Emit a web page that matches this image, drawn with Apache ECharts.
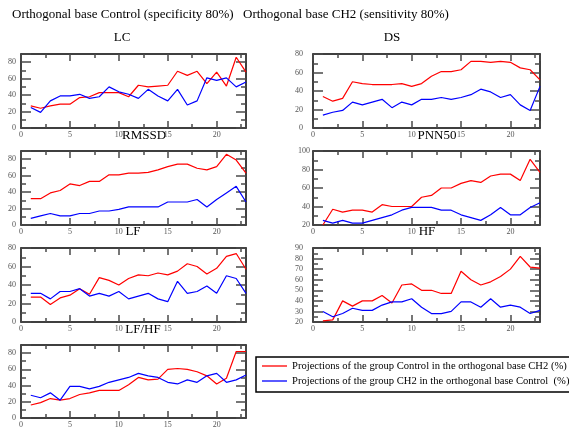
<!DOCTYPE html>
<html><head><meta charset="utf-8">
<script src="https://cdn.jsdelivr.net/npm/echarts@6/dist/echarts.min.js"></script>
<style>html,body{margin:0;padding:0;background:#fff}#c{width:569px;height:429px}</style>
</head><body><div id="c"></div>
<script>
// ---------------- data ----------------
const xIdx = [1,2,3,4,5,6,7,8,9,10,11,12,13,14,15,16,17,18,19,20,21,22,23];
const panelNames = ['LC','DS','RMSSD','PNN50','LF','HF','LF/HF'];
const seriesNames = [
  'Projections of the group Control in the orthogonal base CH2 (%)',
  'Projections of the group CH2 in the orthogonal base Control  (%)'
];
const lcRed   = [27,24,27,29,29,37,38,43,43,43,38,52,50,51,52,69,64,69,54,68,51,86,68];
const lcBlue  = [25,19,33,39,39,41,36,38,50,44,41,36,47,39,33,47,28,33,61,58,61,50,56];
const dsRed   = [34,29,32,50,48,47,47,47,48,45,48,56,61,61,63,72,72,71,72,71,65,63,52];
const dsBlue  = [14,17,19,28,25,28,31,22,28,25,31,31,33,31,33,36,42,39,33,36,25,19,45];
const rmssdRed  = [32,32,39,42,50,48,53,53,61,61,63,63,64,67,71,74,74,69,67,71,86,79,63];
const rmssdBlue = [8,11,14,11,11,14,14,17,17,19,22,22,22,22,28,28,28,31,22,31,39,47,28];
const pnnRed  = [20,37,34,36,36,34,42,40,40,40,50,52,60,60,65,68,66,73,75,75,68,91,77];
const pnnBlue = [25,22,25,22,22,25,28,31,36,39,39,39,36,36,31,28,25,31,39,31,31,39,44];
const lfRed   = [27,27,19,26,29,36,30,48,45,40,47,51,50,53,51,55,63,60,52,58,71,74,57];
const lfBlue  = [31,31,25,33,33,36,28,31,28,33,25,28,31,25,22,44,31,33,39,31,50,47,31];
const hfRed   = [21,22,40,35,40,40,45,38,55,56,50,50,47,47,68,60,55,58,63,70,82,72,71];
const hfBlue  = [30,25,28,33,31,31,36,39,39,42,34,28,28,30,39,39,34,42,34,36,34,28,31];
const lfhfRed  = [16,19,24,22,24,29,31,34,34,34,41,50,47,48,60,61,60,57,52,42,49,82,82];
const lfhfBlue = [28,25,31,22,39,39,36,39,44,47,50,55,52,50,44,42,47,44,52,55,44,47,53];
const redSets  = [lcRed, dsRed, rmssdRed, pnnRed, lfRed, hfRed, lfhfRed];
const blueSets = [lcBlue, dsBlue, rmssdBlue, pnnBlue, lfBlue, hfBlue, lfhfBlue];
const yMinVals  = [0, 0, 0, 20, 0, 20, 0];
const yMaxVals  = [90, 80, 90, 100, 80, 90, 90];
const yStepVals = [20, 20, 20, 20, 20, 10, 20];
const xMinVal = 0, xMaxVal = 23, xStepVal = 5;
const mainTitles = ['Orthogonal base Control (specificity 80%)', 'Orthogonal base CH2 (sensitivity 80%)'];

// ---------------- layout / style ----------------
const FONT = '"Liberation Serif", "Times New Roman", serif';
const gridBoxes = [
  {left:21,  top:54,  width:225, height:74},
  {left:313, top:54,  width:227, height:74},
  {left:21,  top:151, width:225, height:74},
  {left:313, top:151, width:227, height:74},
  {left:21,  top:248, width:225, height:74},
  {left:313, top:248, width:227, height:74},
  {left:21,  top:345, width:225, height:74}
];
const yLabelMargin = [5, 10, 5, 3, 5, 10, 5];
const titlePos = [[122,38],[392,38],[144,136],[437,136],[133,232],[427,232],[143,330]];
const RED = '#ff0000', BLUE = '#0000ff';
const tickColor = '#4a4a4a';

const grid = [], xAxis = [], yAxis = [], series = [];
gridBoxes.forEach((g, i) => {
  grid.push(Object.assign({containLabel:false}, g));
  const xBase = {
    type:'value', gridIndex:i, min:xMinVal, max:xMaxVal, interval:xStepVal,
    axisLine:{show:true, onZero:false, lineStyle:{color:'#000', width:1.5}},
    axisTick:{show:true, inside:true, length:7, lineStyle:{color:tickColor, width:1.5}},
    minorTick:{show:true, splitNumber:2, length:4, lineStyle:{color:tickColor, width:1.5}},
    splitLine:{show:false}
  };
  xAxis.push(Object.assign({}, xBase, {position:'bottom',
    axisLabel:{show:true, margin:3, fontSize:8, fontFamily:FONT, color:'#555', showMaxLabel:false}}));
  xAxis.push(Object.assign({}, xBase, {position:'top', axisLabel:{show:false}}));
  const yBase = {
    type:'value', gridIndex:i, min:yMinVals[i], max:yMaxVals[i], interval:yStepVals[i],
    axisLine:{show:true, onZero:false, lineStyle:{color:'#000', width:1.5}},
    axisTick:{show:true, inside:true, length:10, lineStyle:{color:tickColor, width:1.5}},
    minorTick:{show:true, splitNumber:2, length:5, lineStyle:{color:tickColor, width:1.5}},
    splitLine:{show:false}
  };
  yAxis.push(Object.assign({}, yBase, {position:'left',
    axisLabel:{show:true, margin:yLabelMargin[i], fontSize:8, fontFamily:FONT, color:'#555',
      showMaxLabel: (yMaxVals[i] - yMinVals[i]) % yStepVals[i] === 0}}));
  yAxis.push(Object.assign({}, yBase, {position:'right', axisLabel:{show:false}}));
  [[redSets[i], RED, 0], [blueSets[i], BLUE, 1]].forEach(([vals, col, k]) => {
    series.push({
      type:'line', name:seriesNames[k], xAxisIndex:2*i, yAxisIndex:2*i,
      data: xIdx.map((x, j) => [x, vals[j]]),
      symbol:'none', showSymbol:false, lineStyle:{color:col, width:1.2}, itemStyle:{color:col},
      z: k === 0 ? 2 : 3
    });
  });
});

const graphic = [];
graphic.push({type:'text', x:12, y:15, style:{text:mainTitles[0], font:'13px ' + FONT, fill:'#000', align:'left', verticalAlign:'middle'}});
graphic.push({type:'text', x:243, y:15, style:{text:mainTitles[1], font:'13px ' + FONT, fill:'#000', align:'left', verticalAlign:'middle'}});
panelNames.forEach((n, i) => {
  graphic.push({type:'text', x:titlePos[i][0], y:titlePos[i][1],
    style:{text:n, font:'13px ' + FONT, fill:'#000', align:'center', verticalAlign:'middle'}});
});

const chart = echarts.init(document.getElementById('c'), null, {renderer:'canvas'});
chart.setOption({
  animation:false,
  backgroundColor:'#fff',
  grid, xAxis, yAxis, series, graphic,
  legend:{
    data:seriesNames, orient:'vertical', left:256, top:357,
    icon:'rect',
    padding:[2,10,4,6], itemGap:1, itemWidth:25, itemHeight:1.3,
    borderColor:'#000', borderWidth:1.5, backgroundColor:'#fff',
    selectedMode:false,
    textStyle:{fontFamily:FONT, fontSize:10.6, color:'#000', lineHeight:14, height:14}
  }
});
</script></body></html>
